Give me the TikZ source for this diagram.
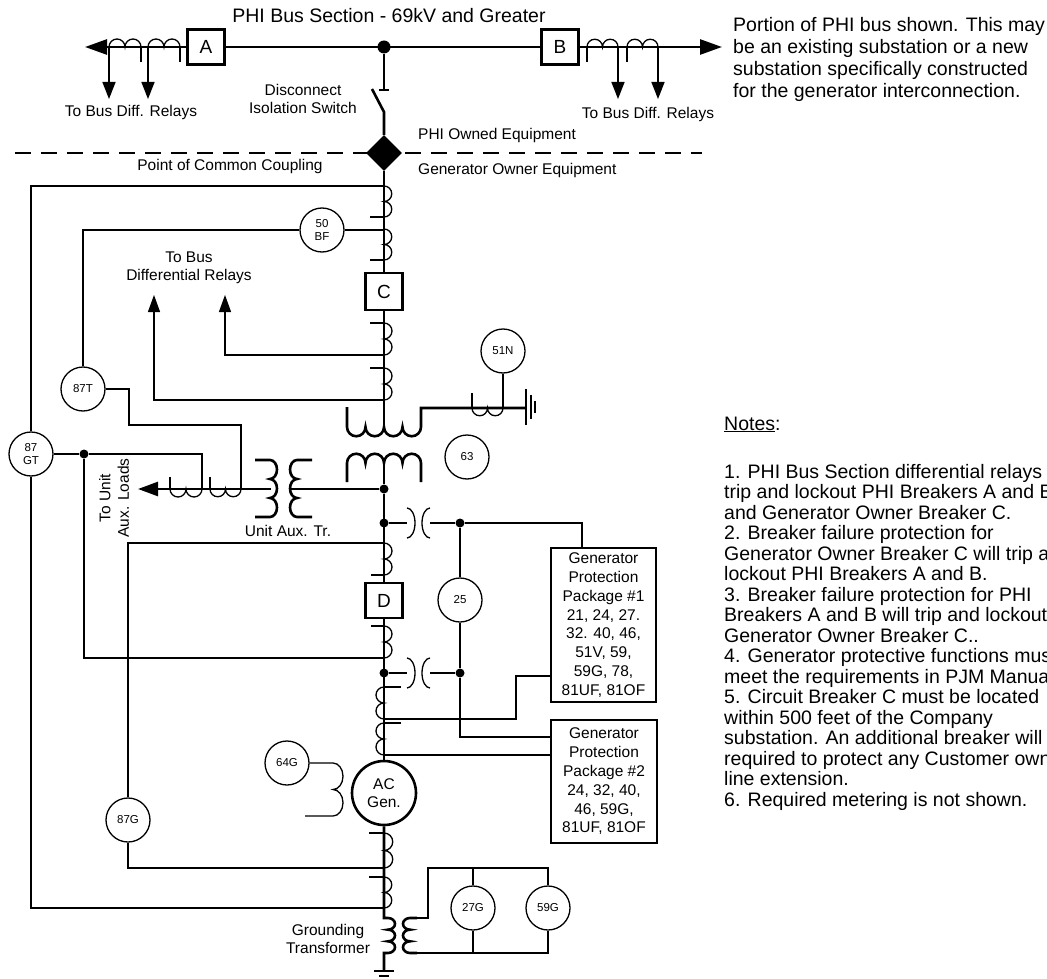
\documentclass[tikz,border=0pt]{standalone}
\usepackage{fontspec}
\setmainfont{Liberation Sans}
\usetikzlibrary{arrows.meta,shapes.geometric}

\tikzset{
  wire/.style={line width=1.3pt},
  heavy/.style={line width=2.6pt},
  relay/.style={draw, circle, line width=1.3pt, minimum size=44pt, inner sep=0pt, align=center, font=\fontsize{11.5}{13}\selectfont},
  brk/.style={draw, fill=white, line width=2.6pt, minimum width=37pt, minimum height=35pt, inner sep=0pt, font=\fontsize{19}{20}\selectfont},
  lbl/.style={align=center, inner sep=0pt, font=\fontsize{15.5}{18.5}\selectfont},
  note/.style={anchor=base west, inner sep=0pt, font=\fontsize{19.5}{21}\selectfont},
  jdot/.style={circle, fill, inner sep=0pt, minimum size=9pt},
  pkg/.style={draw, line width=1.3pt, inner sep=0pt, align=center, font=\fontsize{15.5}{18.8}\selectfont},
  tip/.style={-{Triangle[length=17pt,width=13pt]}},
  bigtip/.style={-{Triangle[length=22pt,width=15pt]}},
}

% ct coils: x, y, radius
\newcommand{\coilr}[3]{\draw[wire] (#1,#2) arc[start angle=-90,end angle=90,radius=#3] arc[start angle=-90,end angle=90,radius=#3];}
\newcommand{\coill}[3]{\draw[wire] (#1,#2) arc[start angle=-90,end angle=-270,radius=#3] arc[start angle=-90,end angle=-270,radius=#3];}
\newcommand{\coilu}[3]{\draw[wire] (#1,#2) arc[start angle=180,end angle=360,radius=#3] arc[start angle=180,end angle=360,radius=#3];}
\newcommand{\coild}[3]{\draw[wire] (#1,#2) arc[start angle=180,end angle=0,radius=#3] arc[start angle=180,end angle=0,radius=#3];}

\begin{document}
\begin{tikzpicture}[x=1pt,y=-1pt]
\useasboundingbox (0,0) rectangle (1047,979);
\fill[white] (0,0) rectangle (1047,979);

% phi bus
\coordinate (busl) at (85,47);
\coordinate (busr) at (722,47);
\node[jdot, minimum size=13pt] (bj) at (384,47) {};
\node[brk] (A) at (206,47) {A};
\node[brk] (B) at (560,47) {B};
\draw[heavy, bigtip] (A) -- (busl);
\draw[heavy] (A) -- (B);
\draw[heavy, bigtip] (B) -- (busr);
\node[font=\fontsize{19.5}{22}\selectfont] (title) at (389,16) {PHI Bus Section - 69kV and Greater};

% bus cts
\coilu{109}{47}{8} \draw[wire] (141,47) -- (141,62);
\coilu{148}{47}{8} \draw[wire] (180,47) -- (180,62);
\coilu{587}{47}{7.75} \draw[wire] (587,47) -- (587,62);
\coilu{627}{47}{7.75} \draw[wire] (627,47) -- (627,62);
\draw[line width=1.6pt, tip] (109,47) -- (109,99);
\draw[line width=1.6pt, tip] (148,47) -- (148,99);
\draw[line width=1.6pt, tip] (618,47) -- (618,99);
\draw[line width=1.6pt, tip] (658,47) -- (658,99);
\node[lbl] (lbdl) at (131,112) {To Bus Diff. Relays};
\node[lbl] (lbdr) at (648,114) {To Bus Diff. Relays};

% disconnect switch and pcc
\draw[wire, dash pattern=on 16pt off 10pt] (15,153) -- (702,153);
\node[diamond, fill, minimum size=36pt, inner sep=0pt] (pcc) at (384,153) {};
\draw[heavy] (bj) -- (384,90);
\draw[wire] (379,90) -- (389,90);
\draw[heavy] (372,89) -- (384,112) -- (pcc);
\node[lbl] (lsw) at (303,99) {Disconnect\\Isolation Switch};
\node[lbl, anchor=west] (lphi) at (418,135) {PHI Owned Equipment};
\node[lbl, anchor=west] (lgo) at (418,170) {Generator Owner Equipment};
\node[lbl] (lpcc) at (230,166) {Point of Common Coupling};

% main column
\node[brk, minimum height=37pt] (C) at (384,291.5) {C};
\node[brk] (D) at (384,600.5) {D};
\node[jdot] (aj) at (384,489) {};
\node[draw, circle, line width=2.6pt, minimum size=64pt, inner sep=0pt, align=center, font=\fontsize{15.5}{18}\selectfont] (gen) at (384,793) {AC\\Gen.};
\draw[heavy] (pcc) -- (C);
\draw[heavy] (C) -- (384,427);
\draw[heavy] (384,463) -- (aj) -- (D);
\draw[heavy] (D) -- (gen);

% column cts
\coilr{384}{186}{7.75} \draw[wire] (370,217) -- (384,217);
\coilr{384}{229}{7.75} \draw[wire] (370,260) -- (384,260);
\draw[wire] (370,323) -- (384,323); \coilr{384}{323}{8}
\draw[wire] (370,368) -- (384,368); \coilr{384}{368}{8}
\coilr{384}{543}{8} \draw[wire] (371,575) -- (384,575);
\draw[wire] (371,626) -- (384,626); \coilr{384}{626}{8}
\draw[wire] (384,687) -- (401,687); \coill{384}{687}{8}
\draw[wire] (384,723) -- (401,723); \coill{384}{723}{8}
\draw[wire] (369,833) -- (384,833); \coilr{384}{833}{8.75}
\draw[wire] (369,877) -- (384,877); \coilr{384}{877}{7.75}

% step-up transformer
\coordinate (gnd) at (526,408);
\draw[heavy] (347,407) -- (347,427) arc[start angle=180,end angle=0,radius=9.25] arc[start angle=180,end angle=0,radius=9.25]
  arc[start angle=180,end angle=0,radius=9.25] arc[start angle=180,end angle=0,radius=9.25] -- (421,408) -- (gnd);
\draw[heavy] (347,482) -- (347,463) arc[start angle=180,end angle=360,radius=9.25] arc[start angle=180,end angle=360,radius=9.25]
  arc[start angle=180,end angle=360,radius=9.25] arc[start angle=180,end angle=360,radius=9.25] -- (421,482);
\draw[heavy] (526,389) -- (526,425);
\draw[wire] (531,395) -- (531,419);
\draw[wire] (535,401) -- (535,413);
\draw[wire] (472,393) -- (472,408); \coild{472}{408}{7.75}
\node[relay] (r51n) at (503,351) {51N};
\draw[wire] (r51n) -- (503,408);
\node[relay] (r63) at (467,457) {63};

% unit aux transformer
\draw[heavy] (312,460) -- (297,460) arc[start angle=-90,end angle=-270,x radius=7,y radius=9.5]
  arc[start angle=-90,end angle=-270,x radius=7,y radius=9.5] arc[start angle=-90,end angle=-270,x radius=7,y radius=9.5] -- (312,517);
\draw[heavy] (255,460) -- (270,460) arc[start angle=-90,end angle=90,x radius=7,y radius=9.5]
  arc[start angle=-90,end angle=90,x radius=7,y radius=9.5] arc[start angle=-90,end angle=90,x radius=7,y radius=9.5] -- (255,517);
\draw[heavy] (aj) -- (291,489);
\coordinate (auxl) at (138,489);
\draw[heavy, -{Triangle[length=20pt,width=14pt]}] (271,489) -- (auxl);
\draw[wire] (170,477) -- (170,489); \coild{170}{489}{8}
\draw[wire] (210,477) -- (210,489); \coild{210}{489}{7.75}
\node[lbl] (ltr) at (288,531) {Unit Aux. Tr.};
\node[lbl, rotate=90] (laux) at (114,498) {To Unit\\Aux. Loads};

% relays
\node[relay] (r87gt) at (31,454) {87\\GT};
\node[relay] (r87t) at (83,389) {87T};
\node[relay] (r50bf) at (322,230) {50\\BF};
\node[relay] (r25) at (460,600) {25};
\node[relay] (r64g) at (287,763) {64G};
\node[relay] (r87g) at (128,820) {87G};
\node[relay] (r27g) at (473,908) {27G};
\node[relay] (r59g) at (548,908) {59G};
\node[jdot] (j87) at (84,454) {};

% relay wiring
\draw[wire] (r87gt) -- (31,186) -- (384,186);
\draw[wire] (r87gt) -- (31,908) -- (384,908);
\draw[wire] (r87gt) -- (j87) -- (202,454) -- (202,489);
\draw[wire] (j87) -- (84,658) -- (384,658);
\draw[wire] (r87t) -- (83,230) -- (r50bf);
\draw[wire] (r50bf) -- (384,230);
\draw[wire] (r87t) -- (129,389) -- (129,425) -- (241,425) -- (241,489);
\draw[wire, -{Triangle[length=17pt,width=12pt]}] (384,355) -- (225,355) -- (225,295);
\draw[wire, -{Triangle[length=17pt,width=12pt]}] (384,400) -- (154,400) -- (154,295);
\node[lbl] (lbus) at (189,268) {To Bus\\Differential Relays};
\draw[wire] (r87g) -- (128,543) -- (384,543);
\draw[wire] (r87g) -- (128,868) -- (384,868);

% pts and generator protection
\node[pkg, minimum width=105pt, minimum height=154pt] (pkg1) at (603.5,625) {Generator\\Protection\\Package \#1\\21, 24, 27.\\32. 40, 46,\\51V, 59,\\59G, 78,\\81UF, 81OF};
\node[pkg, minimum width=106pt, minimum height=123pt] (pkg2) at (604,781.5) {Generator\\Protection\\Package \#2\\24, 32, 40,\\46, 59G,\\81UF, 81OF};
\node[jdot] (pt1a) at (384,523) {};
\node[jdot] (pt1b) at (460,523) {};
\node[jdot] (pt2a) at (384,673) {};
\node[jdot] (pt2b) at (460,673) {};
\draw[wire] (pt1a) -- (407,523);
\draw[wire] (407,508) arc[start angle=-90,end angle=90,x radius=8,y radius=15];
\draw[wire] (430,508) arc[start angle=-90,end angle=-270,x radius=8,y radius=15];
\coordinate (t1) at (582,523);
\draw[wire] (430,523) -- (pt1b) -- (t1) -- (t1 |- pkg1.north);
\draw[wire] (pt2a) -- (407,673);
\draw[wire] (407,658) arc[start angle=-90,end angle=90,x radius=8,y radius=15];
\draw[wire] (430,658) arc[start angle=-90,end angle=-270,x radius=8,y radius=15];
\coordinate (t2) at (460,737);
\draw[wire] (430,673) -- (pt2b) -- (t2) -- (t2 -| pkg2.west);
\draw[wire] (pt1b) -- (r25);
\draw[wire] (r25) -- (pt2b);
\coordinate (t3) at (516,676);
\draw[wire] (t3 -| pkg1.west) -- (t3) -- (516,719) -- (384,719);
\coordinate (t4) at (384,755);
\draw[wire] (t4) -- (t4 -| pkg2.west);

% 64g
\draw[wire] (r64g) -- (333,763) arc[start angle=-90,end angle=90,x radius=10,y radius=13.25]
  arc[start angle=-90,end angle=90,x radius=10,y radius=13.25] -- (305,816);

% grounding transformer
\draw[heavy] (gen) -- (384,918) -- (388,918) arc[start angle=-90,end angle=90,x radius=7,y radius=5.83]
  arc[start angle=-90,end angle=90,x radius=7,y radius=5.83] arc[start angle=-90,end angle=90,x radius=7,y radius=5.83] -- (384,953) -- (384,971);
\draw[heavy] (374,971) -- (394,971);
\draw[heavy] (379,976) -- (389,976);
\draw[heavy] (417,918) -- (410,918) arc[start angle=-90,end angle=-270,x radius=7,y radius=5.83]
  arc[start angle=-90,end angle=-270,x radius=7,y radius=5.83] arc[start angle=-90,end angle=-270,x radius=7,y radius=5.83] -- (417,953);
\draw[wire] (417,918) -- (428,918) -- (428,868) -- (548,868) -- (r59g);
\draw[wire] (473,868) -- (r27g);
\draw[wire] (417,953) -- (548,953) -- (r59g);
\draw[wire] (473,953) -- (r27g);
\node[lbl] (lgt) at (328,939) {Grounding\\Transformer};

% notes
\foreach \t [count=\i from 0] in {{Portion of PHI bus shown. This may},{be an existing substation or a new},{substation specifically constructed},{for the generator interconnection.}}
  \node[note] at (733,32+21.7*\i) {\t};
\node[note] (notes) at (724,430) {\underline{Notes}:};
\foreach \t [count=\i from 0] in {{1. PHI Bus Section differential relays},{trip and lockout PHI Breakers A and B},{and Generator Owner Breaker C.},{2. Breaker failure protection for},{Generator Owner Breaker C will trip and},{lockout PHI Breakers A and B.},{3. Breaker failure protection for PHI},{Breakers A and B will trip and lockout},{Generator Owner Breaker C..},{4. Generator protective functions must},{meet the requirements in PJM Manual},{5. Circuit Breaker C must be located},{within 500 feet of the Company},{substation. An additional breaker will},{required to protect any Customer owned},{line extension.},{6. Required metering is not shown.}}
  \node[note] at (724,478+20.5*\i) {\t};
\end{tikzpicture}
\end{document}
